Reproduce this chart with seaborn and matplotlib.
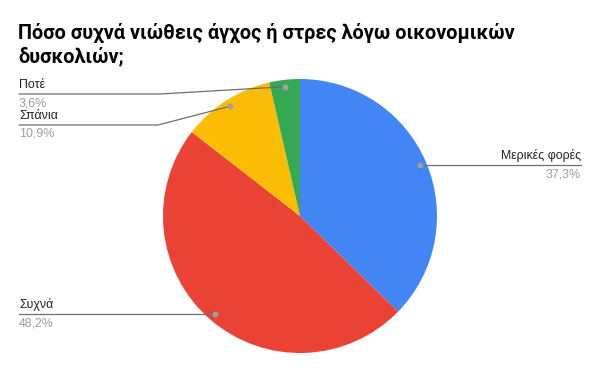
import numpy as np
import matplotlib
matplotlib.use("Agg")
import matplotlib.pyplot as plt
import seaborn as sns
from matplotlib.lines import Line2D

title_lines = ["Πόσο συχνά νιώθεις άγχος ή στρες λόγω οικονομικών", "δυσκολιών;"]
categories = ["Μερικές φορές", "Συχνά", "Σπάνια", "Ποτέ"]
values = [37.3, 48.2, 10.9, 3.6]
pct_labels = ["37,3%", "48,2%", "10,9%", "3,6%"]
colors = ["#4285F4", "#EA4335", "#FBBC04", "#34A853"]

sns.set_style("white")
plt.rcParams['font.family'] = ['Roboto', 'DejaVu Sans']

W, H = 600, 371
fig = plt.figure(figsize=(W / 100, H / 100), dpi=100)
fig.patch.set_facecolor("white")

def fx(x):
    return x / W

def fy(y):
    return 1 - y / H

ax = fig.add_axes([163 / W, 1 - 353 / H, 274 / W, 274 / H])
wedges, _ = ax.pie(values, colors=colors, startangle=90, counterclock=False,
                   radius=1, wedgeprops=dict(linewidth=0))
ax.set_xlim(-1, 1)
ax.set_ylim(-1, 1)
ax.set_aspect("equal")
ax.axis("off")

fig.canvas.draw()

dots = []
for w in wedges:
    th = np.deg2rad((w.theta1 + w.theta2) / 2)
    dx, dy = ax.transData.transform((0.95 * np.cos(th), 0.95 * np.sin(th)))
    dots.append((dx, H - dy))

line_col = "#6f6f6f"
dot_col = "#9e9e9e"
lab_col = "#222222"
pct_col = "#9e9e9e"
lab_font = ['Liberation Sans', 'DejaVu Sans']
fs = 8.9

def draw_label(i, side, line_y=None, knee_x=None):
    dxp, dyp = dots[i]
    ly = dyp if line_y is None else line_y
    if side == "right":
        xs = [dxp, 581]
        ys = [dyp, dyp]
        tx, ha = 581, "right"
    else:
        if knee_x is None:
            xs = [19, dxp]
            ys = [ly, dyp]
        else:
            xs = [19, knee_x, dxp]
            ys = [ly, ly, dyp]
        tx, ha = 19, "left"
    fig.add_artist(Line2D([fx(v) for v in xs], [fy(v) for v in ys],
                          transform=fig.transFigure, color=line_col, lw=0.9))
    fig.add_artist(Line2D([fx(dxp)], [fy(dyp)], transform=fig.transFigure,
                          marker="o", markersize=3.2, color=dot_col, lw=0))
    fig.text(fx(tx), fy(ly - 3), categories[i], ha=ha, va="bottom",
             fontsize=fs, color=lab_col, family=lab_font)
    fig.text(fx(tx), fy(ly + 3), pct_labels[i], ha=ha, va="top",
             fontsize=fs, color=pct_col, family=lab_font)

draw_label(0, "right")
draw_label(1, "left")
draw_label(2, "left", line_y=125, knee_x=158)
draw_label(3, "left", line_y=94, knee_x=160)

fig.text(fx(18), fy(39), title_lines[0], ha="left", va="baseline",
         fontsize=14.3, fontweight="bold", color="#000000")
fig.text(fx(18), fy(62), title_lines[1], ha="left", va="baseline",
         fontsize=14.3, fontweight="bold", color="#000000")

fig.savefig("out.png", dpi=100, facecolor="white")
